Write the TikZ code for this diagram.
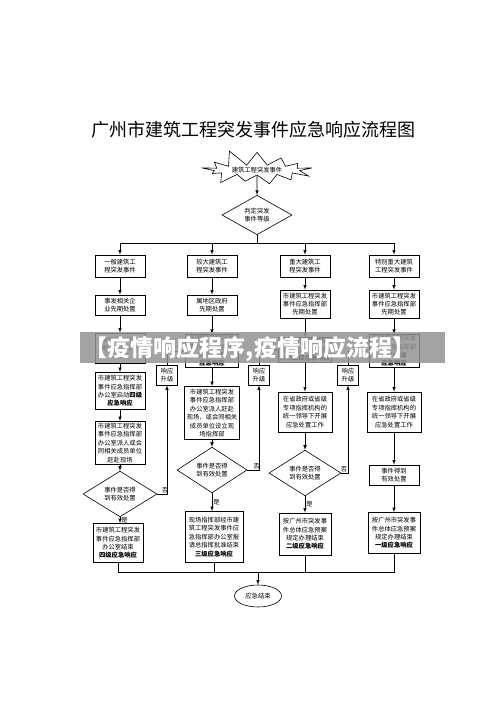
\documentclass[tikz,border=0pt]{standalone}
\usepackage{fontspec}
\newfontfamily\cjk{Noto Sans CJK SC}
\usetikzlibrary{positioning, arrows, shapes.geometric, shapes.symbols}
\newcommand{\boxfont}{\cjk\fontsize{6.3}{8.4}\selectfont}

\begin{document}
\begin{tikzpicture}[x=1pt, y=-1pt, >=latex, line width=0.6pt,
        box/.style={draw, rectangle, align=center, font=\boxfont, minimum width=50pt, inner sep=1pt, line width=0.8pt},
        judge/.style={draw, diamond, align=center, font=\boxfont, inner sep=0pt},
        upbox/.style={draw, rectangle, align=center, font=\boxfont, minimum width=21pt, minimum height=20pt, inner sep=0.5pt},
        lbl/.style={font=\boxfont, inner sep=1pt}]
        \fill[white] (0,0) rectangle (500,706);
        \useasboundingbox (0,0) rectangle (500,706);

        \node[font=\cjk\fontsize{18}{20}\selectfont] (title) at (253,130) {广州市建筑工程突发事件应急响应流程图};

        \node[draw, starburst, starburst points=13, starburst point height=17pt, random starburst=11,
              minimum width=120pt, minimum height=44pt, font=\boxfont, inner sep=0pt] (B) at (257,170) {建筑工程突发事件};
        \node[judge, minimum width=70pt, minimum height=36pt] (Q) at (257,215) {判定突发\\事件等级};
        \coordinate (bus) at (257,243);

        % event level
        \node[box, minimum height=22pt] (T1) at (120,266) {一般建筑工\\程突发事件};
        \node[box, minimum height=22pt] (T2) at (212,266) {较大建筑工\\程突发事件};
        \node[box, minimum height=22pt] (T3) at (305,266) {重大建筑工\\程突发事件};
        \node[box, minimum height=22pt] (T4) at (394,266) {特别重大建筑\\工程突发事件};

        % first handling
        \node[box, minimum height=20pt] (P1) at (120,305) {事发相关企\\业先期处置};
        \node[box, minimum height=20pt] (P2) at (212,305) {属地区政府\\先期处置};
        \node[box, minimum height=28pt] (P3) at (305,304) {市建筑工程突发\\事件应急指挥部\\先期处置};
        \node[box, minimum height=28pt] (P4) at (394,304) {市建筑工程突发\\事件应急指挥部\\先期处置};

        \node[box, minimum height=30pt] (R1) at (120,348) {突发事件发生\\单位报告属地\\区政府};
        \node[box, minimum height=33pt, minimum width=53pt] (R2) at (212,351) {市建筑工程突发\\事件应急指挥部\\启动\textbf{三级}\\\textbf{应急响应}};
        \node[box, minimum height=25pt] (R3) at (305,350) {市建筑工程突发\\事件应急指挥部\\启动\textbf{二级应急响应}};
        \node[box, minimum height=32pt] (R4) at (394,351) {市建筑工程突发\\事件应急指挥部\\启动\textbf{一级}\\\textbf{应急响应}};

        \node[box, minimum height=37pt] (A1) at (120,391) {市建筑工程突发\\事件应急指挥部\\办公室启动\textbf{四级}\\\textbf{应急响应}};
        \node[box, minimum height=53pt, minimum width=55pt] (A2) at (212,413) {市建筑工程突发\\事件应急指挥部\\办公室派人赶赴\\现场，或会同相关\\成员单位设立现\\场指挥部};
        \node[box, minimum height=40pt, minimum width=54pt] (A3) at (305,412) {在省政府或省级\\专项指挥机构的\\统一领导下开展\\应急处置工作};
        \node[box, minimum height=40pt, minimum width=54pt] (A4) at (394,412) {在省政府或省级\\专项指挥机构的\\统一领导下开展\\应急处置工作};

        \node[box, minimum height=43pt] (S1) at (120,443) {市建筑工程突发\\事件应急指挥部\\办公室派人或会\\同相关成员单位\\赶赴现场};

        % checks
        \node[judge, minimum width=74pt, minimum height=32pt] (J1) at (120,494) {事件是否得\\到有效处置};
        \node[judge, minimum width=70pt, minimum height=30pt] (J2) at (212,470) {事件是否得\\到有效处置};
        \node[judge, minimum width=72pt, minimum height=32pt] (J3) at (305,473) {事件是否得\\到有效处置};
        \node[box, minimum height=20pt] (K4) at (394,475) {事件得到\\有效处置};

        \node[upbox] (U1) at (167,375) {响应\\升级};
        \node[upbox] (U2) at (259,375) {响应\\升级};
        \node[upbox] (U3) at (348,375) {响应\\升级};

        % closing
        \node[box, minimum height=39pt] (E1) at (118,543) {市建筑工程突发\\事件应急指挥部\\办公室结束\\\textbf{四级应急响应}};
        \node[box, minimum height=51pt, minimum width=58pt] (E2) at (214,537) {现场指挥部经市建\\筑工程突发事件应\\急指挥部办公室报\\请总指挥批准结束\\\textbf{三级应急响应}};
        \node[box, minimum height=42pt, minimum width=52pt] (E3) at (305,534) {按广州市突发事\\件总体应急预案\\规定办理结束\\\textbf{二级应急响应}};
        \node[box, minimum height=41pt, minimum width=52pt] (E4) at (394,533) {按广州市突发事\\件总体应急预案\\规定办理结束\\\textbf{一级应急响应}};

        \coordinate (join) at (258,572);
        \node[draw, ellipse, minimum width=47pt, minimum height=22pt, font=\boxfont, inner sep=0pt] (END) at (258,596) {应急结束};

        \draw[->] (B.south) -- (Q.north);
        \draw (Q.south) -- (bus);
        \foreach \t in {T1,T2,T3,T4}
            \draw[->] (bus) -| (\t.north);

        \draw[->] (T1) -- (P1);
        \draw[->] (T2) -- (P2);
        \draw[->] (T3) -- (P3);
        \draw[->] (T4) -- (P4);
        \draw[->] (P1) -- (R1);
        \draw[->] (P2) -- (R2);
        \draw[->] (P3) -- (R3);
        \draw[->] (P4) -- (R4);
        \draw[->] (R1) -- (A1);
        \draw[->] (R2) -- (A2);
        \draw[->] (R3) -- (A3);
        \draw[->] (R4) -- (A4);
        \draw[->] (A1) -- (S1);
        \draw[->] (S1) -- (J1);
        \draw[->] (A2) -- (J2);
        \draw[->] (A3) -- (J3);
        \draw[->] (A4) -- (K4);

        \draw[->] (J1.east) -| node[lbl, above, pos=0.4] {否} (U1.south);
        \draw[->] (J2.east) -| node[lbl, above, pos=0.4] {否} (U2.south);
        \draw[->] (J3.east) -| node[lbl, above, pos=0.2] {否} (U3.south);
        \draw[->] (U1.north) |- (R2.west);
        \draw[->] (U2.north) |- (R3.west);
        \draw[->] (U3.north) |- (R4.west);

        \draw[->] (J1.south) -- node[lbl, right, pos=0.5] {是} (J1.south |- E1.north);
        \draw[->] (J2.south) -- node[lbl, right, pos=0.5] {是} (J2.south |- E2.north);
        \draw[->] (J3.south) -- node[lbl, right, pos=0.5] {是} (E3.north);
        \draw[->] (K4) -- (E4);

        \foreach \e in {E1,E2,E3,E4}
            \draw (\e.south) |- (join);
        \draw[->] (join) -- (END.north);

        % watermark band
        \fill[black!42, opacity=0.85] (80,332) rectangle (445,363);
        \node[text=white, font=\cjk\bfseries\fontsize{23}{24}\selectfont, inner sep=0pt] (banner) at (250,349) {【疫情响应程序,疫情响应流程】};
\end{tikzpicture}
\end{document}
